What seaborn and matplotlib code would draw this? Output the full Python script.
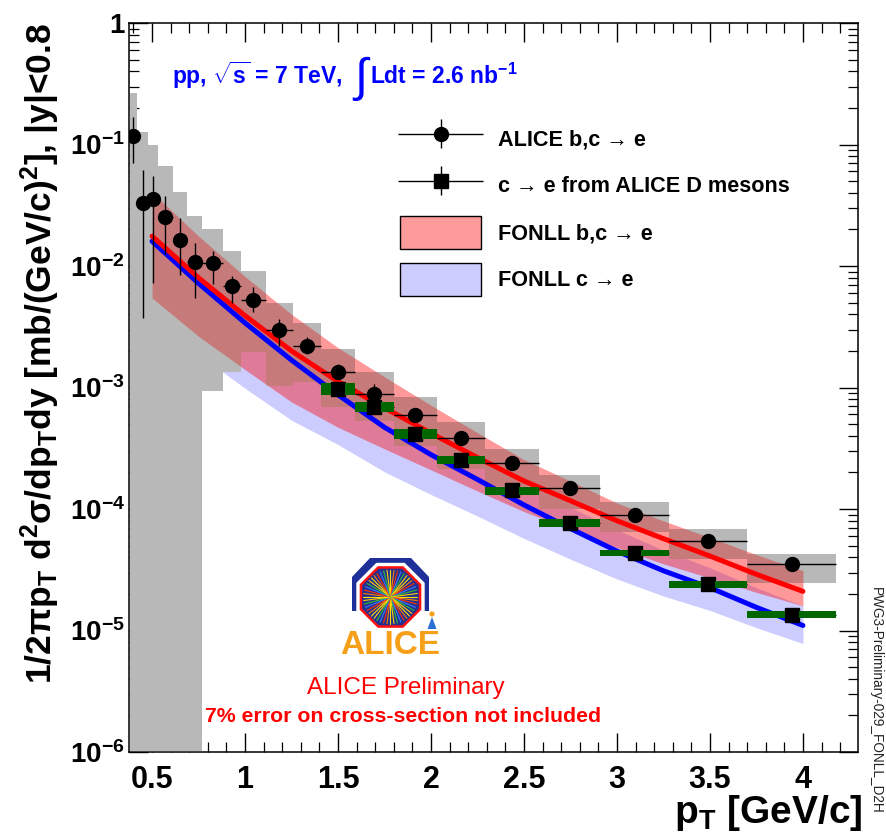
import numpy as np
import matplotlib
matplotlib.use("Agg")
import matplotlib.pyplot as plt
import seaborn as sns
from matplotlib.patches import Patch, Polygon, Circle
from matplotlib.container import ErrorbarContainer
from matplotlib.legend_handler import HandlerErrorbar
from matplotlib.ticker import MultipleLocator, FixedLocator, FuncFormatter, NullFormatter

# ---------------- data ----------------
# ALICE heavy-flavour decay electrons (b,c -> e)
bin_edges = np.array([0.38, 0.42, 0.48, 0.53, 0.61, 0.69, 0.77, 0.88, 0.98, 1.11, 1.26,
                      1.41, 1.59, 1.80, 2.03, 2.29, 2.58, 2.91, 3.28, 3.70, 4.18])
pt_hfe = np.array([0.40, 0.45, 0.505, 0.57, 0.65, 0.73, 0.825, 0.93, 1.045, 1.185, 1.335,
                   1.50, 1.695, 1.915, 2.16, 2.435, 2.745, 3.095, 3.49, 3.94])
xsec_hfe = np.array([0.118, 0.0333, 0.0359, 0.0255, 0.0165, 0.0107, 0.0105, 0.0069, 0.0053,
                     0.00298, 0.00218, 0.00134, 0.00089, 0.00059, 0.000385, 0.00024,
                     0.000149, 8.9e-5, 5.5e-5, 3.5e-5])
stat_hi = np.array([0.170, 0.062, 0.055, 0.0375, 0.025, 0.0155, 0.0133, 0.0083, 0.0067,
                    0.00365, 0.00258, 0.00155, 0.00106, 0.00067, 0.00043, 0.000265,
                    0.000162, 9.6e-5, 5.9e-5, 3.8e-5])
stat_lo = np.array([0.0705, 0.0037, 0.0073, 0.0125, 0.0085, 0.0055, 0.0071, 0.0050, 0.0042,
                    0.0022, 0.00188, 0.00117, 0.00080, 0.00053, 0.00035, 0.000218,
                    0.000137, 8.2e-5, 5.1e-5, 3.2e-5])
sys_hi = np.array([0.266, 0.127, 0.0997, 0.066, 0.041, 0.0256, 0.020, 0.0132, 0.0091,
                   0.0050, 0.0034, 0.00207, 0.00133, 0.00083, 0.00052, 0.00031,
                   0.00019, 1.15e-4, 6.9e-5, 4.3e-5])
sys_lo = np.array([1e-7, 1e-7, 1e-7, 1e-7, 1e-7, 1e-7, 9.4e-4, 1.35e-3, 1.96e-3,
                   1.03e-3, 1.1e-3, 6.9e-4, 5.3e-4, 3.3e-4, 2.14e-4, 1.56e-4,
                   1.0e-4, 6.45e-5, 3.9e-5, 2.46e-5])

# c -> e derived from ALICE D mesons
dm_edges = bin_edges[11:]
pt_dm = np.array([1.50, 1.695, 1.915, 2.16, 2.435, 2.745, 3.095, 3.49, 3.94])
xsec_dm = np.array([9.8e-4, 6.95e-4, 4.14e-4, 2.54e-4, 1.42e-4, 7.7e-5, 4.35e-5, 2.4e-5, 1.35e-5])
dm_sys_rel = np.array([0.12, 0.10, 0.09, 0.08, 0.075, 0.07, 0.065, 0.07, 0.07])
dm_stat_rel = np.array([0.06, 0.06, 0.06, 0.06, 0.06, 0.06, 0.06, 0.06, 0.06])

# FONLL predictions
pt_th = np.array([0.5, 0.75, 1.0, 1.25, 1.5, 1.75, 2.0, 2.25, 2.5, 2.75, 3.0, 3.25, 3.5, 3.75, 4.0])
fonll_bc = np.array([1.76e-2, 8.0e-3, 3.9e-3, 2.0e-3, 1.12e-3, 6.8e-4, 4.2e-4, 2.65e-4,
                     1.7e-4, 1.17e-4, 8.0e-5, 5.7e-5, 4.1e-5, 2.9e-5, 2.1e-5])
fonll_bc_up = np.array([2.3, 2.2, 2.1, 2.0, 1.9, 1.8, 1.7, 1.6, 1.5, 1.45, 1.4, 1.4, 1.42, 1.45, 1.48])
fonll_bc_dn = np.array([0.31, 0.33, 0.36, 0.38, 0.42, 0.46, 0.50, 0.53, 0.56, 0.58, 0.60, 0.62, 0.66, 0.71, 0.76])
fonll_c = np.array([1.6e-2, 7.2e-3, 3.4e-3, 1.68e-3, 8.7e-4, 4.7e-4, 2.8e-4, 1.75e-4,
                    1.08e-4, 6.9e-5, 4.5e-5, 3.1e-5, 2.25e-5, 1.55e-5, 1.1e-5])
fonll_c_up = np.array([2.2, 2.1, 2.0, 1.9, 1.8, 1.7, 1.65, 1.6, 1.55, 1.5, 1.5, 1.48, 1.46, 1.45, 1.45])
fonll_c_dn = np.array([0.25, 0.26, 0.29, 0.32, 0.39, 0.43, 0.47, 0.50, 0.53, 0.56, 0.59, 0.62, 0.65, 0.68, 0.71])

y_decades = [1e-6, 1e-5, 1e-4, 1e-3, 1e-2, 1e-1, 1.0]
legend_labels = ["ALICE b,c \u2192 e", "c \u2192 e from ALICE D mesons",
                 "FONLL b,c \u2192 e", "FONLL c \u2192 e"]

# ---------------- style ----------------
sns.set_style("ticks")
plt.rcParams.update({
    "font.family": ["Liberation Sans", "DejaVu Sans"],
    "font.weight": "bold",
    "text.color": "black",
    "axes.labelcolor": "black",
    "xtick.color": "black",
    "ytick.color": "black",
    "axes.edgecolor": "black",
    "mathtext.fontset": "custom",
    "mathtext.rm": "Liberation Sans:bold",
    "mathtext.it": "Liberation Sans:italic:bold",
    "mathtext.bf": "Liberation Sans:bold",
    "mathtext.sf": "Liberation Sans:bold",
    "mathtext.default": "rm",
    "axes.linewidth": 1.1,
})

W, H = 886, 832
fig = plt.figure(figsize=(W / 100, H / 100), dpi=100)
ax = fig.add_axes([129 / W, 1 - 752 / H, 729 / W, 729 / H])
ax.set_yscale("log")
ax.set_xlim(0.376, 4.296)
ax.set_ylim(1e-6, 1)

# FONLL c->e band (underneath the systematic boxes)
ax.fill_between(pt_th, fonll_c * fonll_c_dn, fonll_c * fonll_c_up,
                color="#ccccff", lw=0, zorder=1)

# systematic boxes of the inclusive measurement
box_w = np.diff(bin_edges)
ax.bar(bin_edges[:-1], sys_hi - sys_lo, bottom=sys_lo, width=box_w,
       align="edge", color="#cbcbcb", lw=0, zorder=2)

# FONLL b,c->e band
ax.fill_between(pt_th, fonll_bc * fonll_bc_dn, fonll_bc * fonll_bc_up,
                color="#ff0000", alpha=0.4, lw=0, zorder=3)

# light grey shading over the band so the boxes stay visible through it
ax.bar(bin_edges[:-1], sys_hi - sys_lo, bottom=sys_lo, width=box_w,
       align="edge", color="#808080", alpha=0.25, lw=0, zorder=3.5)

# FONLL central curves
sns.lineplot(x=pt_th, y=fonll_c, color="#0000ff", lw=3.6, ax=ax, zorder=4,
             sort=False, estimator=None)
sns.lineplot(x=pt_th, y=fonll_bc, color="#ff0000", lw=3.6, ax=ax, zorder=4.5,
             sort=False, estimator=None)

# D-meson based c->e points
eb_dm = ax.errorbar(pt_dm, xsec_dm,
                    xerr=[pt_dm - dm_edges[:-1], dm_edges[1:] - pt_dm],
                    yerr=xsec_dm * dm_stat_rel,
                    fmt="s", color="k", ms=9.8, elinewidth=1.0, capsize=0, zorder=5)
ax.bar(dm_edges[:-1], 2 * xsec_dm * dm_sys_rel, bottom=xsec_dm * (1 - dm_sys_rel),
       width=np.diff(dm_edges), align="edge", color="#006600", lw=0, zorder=6)
sns.scatterplot(x=pt_dm, y=xsec_dm, marker="s", s=9.8 ** 2, color="k",
                edgecolor="none", ax=ax, zorder=7, legend=False)

# inclusive heavy-flavour electrons
eb_hfe = ax.errorbar(pt_hfe, xsec_hfe,
                     xerr=[pt_hfe - bin_edges[:-1], bin_edges[1:] - pt_hfe],
                     yerr=[xsec_hfe - stat_lo, stat_hi - xsec_hfe],
                     fmt="o", color="k", ms=10, elinewidth=1.0, capsize=0, zorder=8)

# ---------------- axes ----------------
ax.xaxis.set_major_locator(MultipleLocator(0.5))
ax.xaxis.set_minor_locator(MultipleLocator(0.1))
ax.xaxis.set_major_formatter(FuncFormatter(lambda v, p: f"{v:g}"))
ax.yaxis.set_major_locator(FixedLocator(y_decades))
ax.yaxis.set_minor_locator(FixedLocator([m * d for d in y_decades[:-1] for m in range(2, 10)]))
ax.yaxis.set_minor_formatter(NullFormatter())


def decade_label(v, p):
    e = int(round(np.log10(v)))
    return "1" if e == 0 else rf"$10^{{{e}}}$"


ax.yaxis.set_major_formatter(FuncFormatter(decade_label))
ax.tick_params(which="both", direction="in", top=True, right=True, color="k")
ax.tick_params(which="major", length=14, width=1.0)
ax.tick_params(which="minor", length=7, width=0.9)
ax.tick_params(axis="x", which="major", pad=9, labelsize=22)
ax.tick_params(axis="y", which="major", pad=3, labelsize=20)

fig.text(862 / W, 1 - 813 / H, r"p$_{T}$ [GeV/c]", ha="right", va="center", fontsize=28)
fig.text(40 / W, 1 - 354 / H,
         r"1/2πp$_{T}$ d$^{2}$σ/dp$_{T}$dy [mb/(GeV/c)$^{2}$], |y|<0.8",
         rotation=90, ha="center", va="center", fontsize=25.5)

# legend
handles = [eb_hfe, eb_dm,
           Patch(facecolor="#ff9a9a", edgecolor="k", lw=1.0),
           Patch(facecolor="#ccccff", edgecolor="k", lw=1.0)]
fs = 15.6
fs_px = fs * 100 / 72
hh = (33 / fs_px - 0.245) / 0.65
ax.legend(handles, legend_labels, loc="upper left",
          bbox_to_anchor=((400 - 129) / 729, (752 - 122) / 729),
          frameon=False, borderpad=0, borderaxespad=0,
          handlelength=81 / fs_px, handleheight=hh,
          handletextpad=17 / fs_px, labelspacing=14 / fs_px,
          prop={"size": fs, "weight": "bold"},
          handler_map={ErrorbarContainer: HandlerErrorbar(xerr_size=1.95, yerr_size=0.68)})

# header text
fig.text(172 / W, 1 - 84 / H, r"pp, $\sqrt{s}$ = 7 TeV,", color="#0000ff",
         fontsize=16.5, ha="left", va="baseline")
fig.text(354 / W, 1 - 91 / H, "\u222b", color="#0000ff", fontsize=34,
         fontweight="normal", ha="left", va="baseline")
fig.text(370 / W, 1 - 84 / H, r"Ldt = 2.6 nb$^{-1}$", color="#0000ff",
         fontsize=16.5, ha="left", va="baseline")

fig.text(406 / W, 1 - 688 / H, "ALICE Preliminary", color="#ff0000",
         fontsize=17.5, fontweight="normal", ha="center", va="center")
fig.text(403 / W, 1 - 717 / H, "7% error on cross-section not included", color="#ff0000",
         fontsize=15.3, ha="center", va="center")
fig.text(876 / W, 1 - 700 / H, "PWG3-Preliminary-029_FONLL_D2H", rotation=-90,
         fontsize=9.8, fontweight="normal", ha="center", va="center", color="#222222")

# ALICE logo
ov = fig.add_axes([0, 0, 1, 1], zorder=20)
ov.set_xlim(0, W)
ov.set_ylim(H, 0)
ov.axis("off")
ov.patch.set_visible(False)
ov.add_patch(Polygon([(352, 611), (352, 577), (370, 558), (411, 558), (429, 577), (429, 611)],
                     closed=True, fc="#1f2f9a", ec="none"))
cx, cy = 390.5, 597.0
ang = np.deg2rad(22.5 + 45 * np.arange(8))
ov.add_patch(Polygon(np.c_[cx + 37 * np.cos(ang), cy + 37 * np.sin(ang)], fc="white", ec="none"))
ov.add_patch(Polygon(np.c_[cx + 32 * np.cos(ang), cy + 32 * np.sin(ang)],
                     fc="#22308f", ec="#ff1010", lw=1.8))
ray_colors = ["#ffe000", "#ff8000", "#ff3000", "#3a7bff", "#30c030", "#ffd000"]
for k in range(48):
    a = 2 * np.pi * k / 48
    ov.plot([cx, cx + 27 * np.cos(a)], [cy, cy + 27 * np.sin(a)],
            color=ray_colors[k % len(ray_colors)], lw=0.8)
ov.add_patch(Circle((cx, cy), 4, fc="#ffd000", ec="none"))
ov.text(390, 646, "ALICE", color="#f6a01a", fontsize=24, fontweight="bold",
        ha="center", va="center")
ov.add_patch(Circle((432, 614), 2.6, fc="#f6a01a", ec="none"))
ov.add_patch(Polygon([(427.5, 629), (436.5, 629), (432, 617)], fc="#2a6fd6", ec="none"))

fig.savefig("out.png", dpi=100)
